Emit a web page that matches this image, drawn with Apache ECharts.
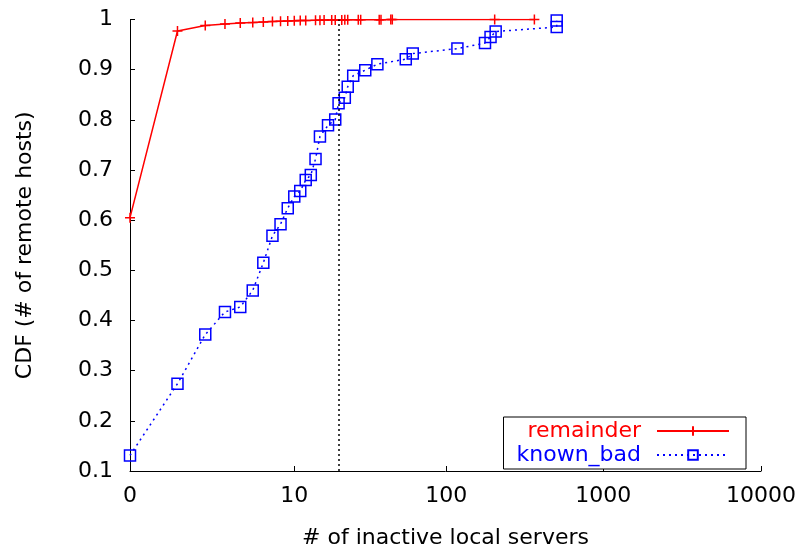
<!DOCTYPE html>
<html>
<head>
<meta charset="utf-8">
<script src="https://cdn.jsdelivr.net/npm/echarts@6/dist/echarts.min.js"></script>
<style>html,body{margin:0;padding:0;background:#fff}#c{width:800px;height:554px}</style>
</head>
<body>
<div id="c"></div>
<script>
// x = number of inactive local servers (plotted on log10(x+1) scale), y = CDF
var remainderX = [0,1,2,3,4,5,6,7,8,9,10,11,12,14,15,16,18,19,21,22,23,27,28,37,38,44,45,204,365];
var remainderY = [0.605,0.977,0.988,0.991,0.993,0.994,0.995,0.996,0.9965,0.997,0.9975,0.998,0.9982,0.9985,0.9987,0.9988,0.999,0.9991,0.9992,0.9993,0.9994,0.9995,0.9996,0.9997,0.9997,0.9998,0.9998,0.9999,1.0];
var knownBadX = [0,1,2,3,4,5,6,7,8,9,10,11,12,13,14,15,17,19,20,22,23,25,30,36,55,61,118,177,192,207,506,506];
var knownBadY = [0.131,0.274,0.372,0.417,0.427,0.460,0.515,0.569,0.592,0.624,0.647,0.658,0.680,0.690,0.722,0.767,0.789,0.8005,0.833,0.844,0.866,0.888,0.899,0.911,0.921,0.932,0.942,0.953,0.965,0.976,0.985,0.998];
var xTickLabels = [0, 10, 100, 1000, 10000];
var thresholdX = 20;

function tx(v){ return Math.log10(v + 1); }
function pts(xs, ys){ return xs.map(function(x,i){ return [tx(x), ys[i]]; }); }
var xTickPos = xTickLabels.map(tx);

var FONT = "'DejaVu Sans',sans-serif";
var FS = 22;
var chart = echarts.init(document.getElementById('c'), null, {renderer:'canvas'});
chart.setOption({
  animation: false,
  backgroundColor: '#fff',
  grid: {left:130, right:39, top:19.5, bottom:79, containLabel:false},
  xAxis: {
    type: 'value', min: 0, max: tx(10000),
    name: '# of inactive local servers', nameLocation: 'middle', nameGap: 56,
    nameTextStyle: {fontFamily: FONT, fontSize: FS, color: '#000'},
    axisLine: {show: true, lineStyle: {color: '#000', width: 1}},
    axisTick: {show: true, inside: true, length: 5, customValues: xTickPos, lineStyle: {color:'#000'}},
    axisLabel: {show: true, customValues: xTickPos, margin: 14, fontFamily: FONT, fontSize: FS, color: '#000',
      formatter: function(v){ return String(Math.round(Math.pow(10, v) - 1)); }},
    splitLine: {show: false}
  },
  yAxis: {
    type: 'value', min: 0.1, max: 1, interval: 0.1,
    name: 'CDF (# of remote hosts)', nameLocation: 'middle', nameGap: 94,
    nameTextStyle: {fontFamily: FONT, fontSize: FS, color: '#000'},
    axisLine: {show: true, lineStyle: {color: '#000', width: 1}},
    axisTick: {show: true, inside: true, length: 5, lineStyle: {color:'#000'}},
    axisLabel: {margin: 17, fontFamily: FONT, fontSize: FS, color: '#000',
      formatter: function(v){ return String(Math.round(v*10)/10); }},
    splitLine: {show: false}
  },
  legend: {
    orient: 'vertical', right: 54, top: 417, align: 'right',
    backgroundColor: '#fff', borderColor: '#000', borderWidth: 1,
    padding: [3, 16, 3, 13], itemGap: 2, itemWidth: 72, itemHeight: 12,
    textStyle: {fontFamily: FONT, fontSize: FS, padding: [0, 11, 0, 0]},
    data: [
      {name: 'remainder', textStyle: {color: '#ff0000'}},
      {name: 'known_bad', textStyle: {color: '#0000ff'}}
    ]
  },
  series: [
    {
      name: 'remainder', type: 'line', data: pts(remainderX, remainderY),
      symbol: 'path://M0,5L10,5M5,0L5,10', symbolSize: 10, showSymbol: true,
      lineStyle: {color: '#ff0000', width: 1.5},
      itemStyle: {color: '#ff0000', borderColor: '#ff0000', borderWidth: 1.5},
      z: 3,
      markLine: {
        silent: true, symbol: ['none','none'], label: {show:false},
        lineStyle: {color: '#000', type: [2, 3], width: 1.5},
        data: [[{coord: [tx(thresholdX), 0.1]}, {coord: [tx(thresholdX), 1]}]]
      }
    },
    {
      name: 'known_bad', type: 'line', data: pts(knownBadX, knownBadY),
      symbol: 'rect', symbolSize: 11, showSymbol: true,
      lineStyle: {color: '#0000ff', width: 1.5, type: [2, 4]},
      itemStyle: {color: 'rgba(0,0,0,0)', borderColor: '#0000ff', borderWidth: 1.5},
      z: 4
    }
  ]
});
</script>
</body>
</html>
